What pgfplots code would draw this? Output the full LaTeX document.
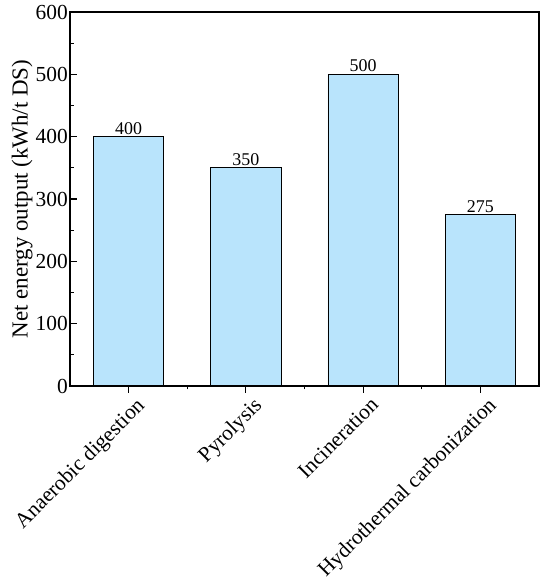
\documentclass[border=0pt]{standalone}
\usepackage{pgfplots}
\pgfplotsset{compat=1.18}
\usepackage{fontspec}
\setmainfont{Liberation Serif}
\definecolor{barblue}{RGB}{185,228,252}
\begin{document}
\begin{tikzpicture}
\begin{axis}[
  scale only axis,
  width=469bp, height=374bp,
  axis on top,
  xmin=-0.5, xmax=3.5,
  ymin=0, ymax=600,
  xtick={0,1,2,3},
  xticklabels={Anaerobic digestion,Pyrolysis,Incineration,Hydrothermal carbonization},
  minor xtick={0.5,1.5,2.5},
  ytick={0,100,...,600},
  minor ytick={50,150,...,550},
  tick align=inside,
  xtick pos=bottom, ytick pos=left,
  major tick length=6.5bp, minor tick length=3.5bp,
  tick style={black, line width=1.2pt},
  axis line style={line width=1.2pt},
  x tick label style={rotate=45, anchor=north east, inner sep=1pt, xshift=3bp, yshift=-6bp},
  y tick label style={inner sep=2pt},
  ticklabel style={font=\fontsize{21.5}{24}\selectfont},
  /pgf/number format/assume math mode=true,
  ylabel={Net energy output (kWh/t DS)},
  every axis y label/.style={at={(ticklabel cs:0.5)}, rotate=90, anchor=south, font=\fontsize{23}{26}\selectfont, inner sep=1pt},
  nodes near coords,
  every node near coord/.append style={font=\fontsize{18}{20}\selectfont, black, inner sep=2pt},
  ybar, bar width=0.6,
  bar shift=0pt,
]
\addplot[fill=barblue, draw=black, line width=0.8pt] coordinates {(0,400) (1,350) (2,500) (3,275)};
\coordinate (SW) at (rel axis cs:0,0);
\coordinate (NE) at (rel axis cs:1,1);
\end{axis}
\pgfresetboundingbox
\path ([xshift=-70bp,yshift=-200bp]SW) rectangle ([xshift=11bp,yshift=12bp]NE);
\end{tikzpicture}
\end{document}
